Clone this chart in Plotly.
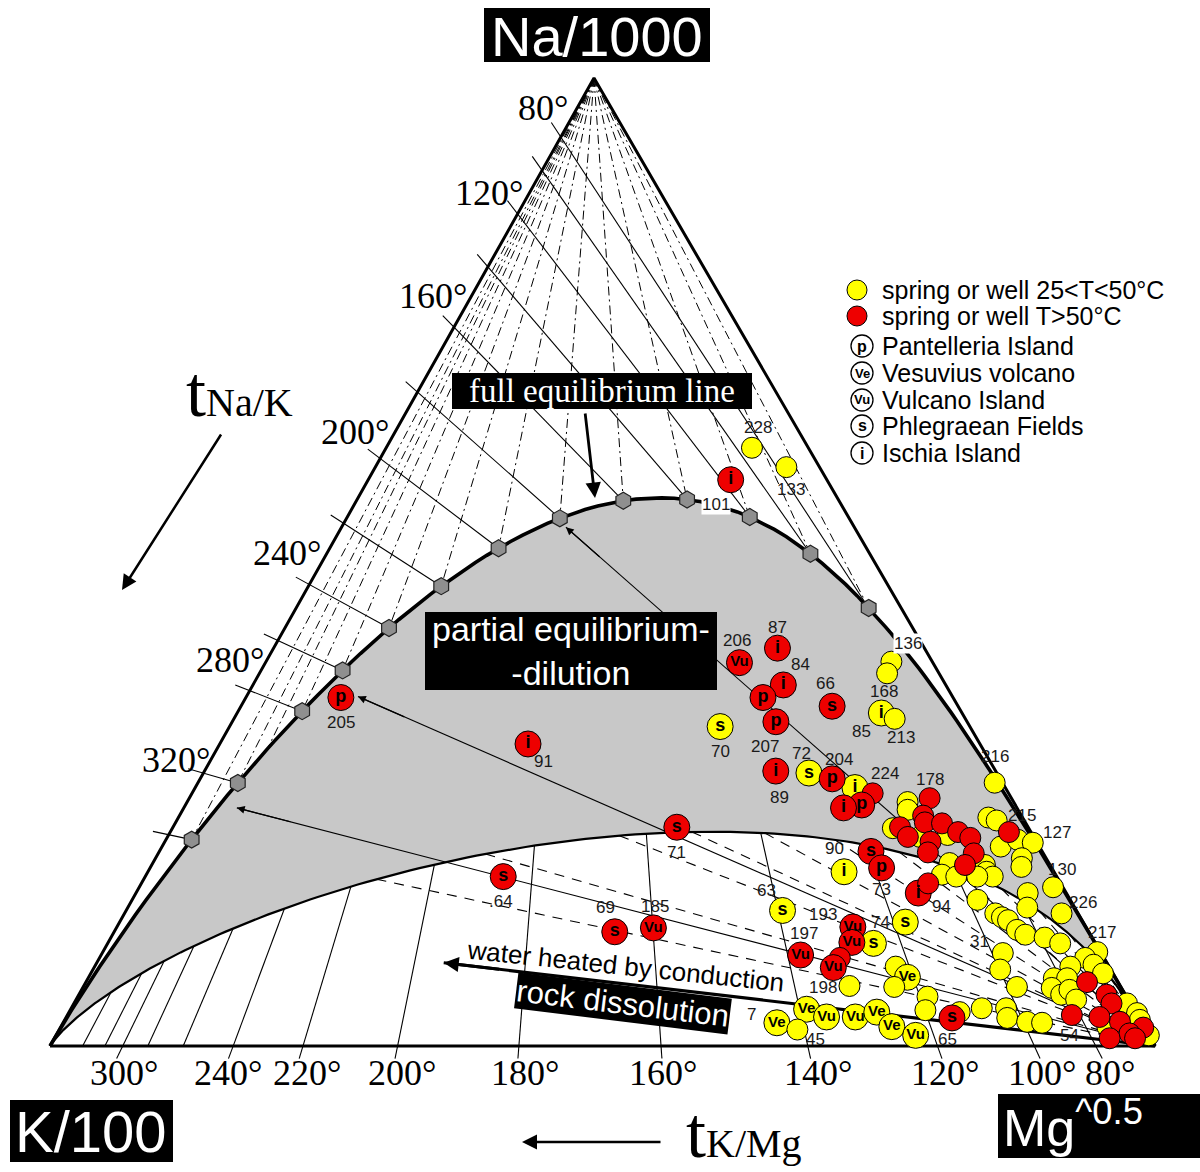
import numpy as np
import plotly.graph_objects as go

# ---------------- sample compositions ----------------
# % of (Na/1000 + K/100 + Mg^0.5); the K/100 share is 100 - Na - Mg
yel_na = [61.8, 59.8, 33.0, 28.2, 26.7, 39.7, 38.5, 34.4, 33.8, 18.0,
          14.0, 10.6, 6.2, 12.8, 8.2, 7.1, 6.1, 5.1, 3.7, 3.5,
          3.9, 3.8, 3.0, 3.0, 3.5, 2.0, 1.1, 2.4, 1.7, 15.1,
          27.2, 25.2, 24.4, 22.5, 21.6, 21.8, 18.9, 17.7, 17.5, 18.7,
          18.0, 17.5, 17.5, 23.6, 23.3, 20.6, 21.3, 21.0, 19.4, 18.5,
          16.4, 15.8, 14.3, 13.7, 13.7, 13.3, 13.0, 12.0, 11.5, 11.2,
          10.6, 9.6, 7.9, 9.7, 9.1, 8.2, 8.4, 7.5, 7.0, 7.0,
          6.0, 5.3, 5.8, 4.8, 6.1, 3.9, 2.9, 2.5, 2.4, 4.4,
          3.4, 2.7, 1.1, 2.0]
yel_mg = [33.1, 37.2, 44.4, 54.8, 59.7, 56.6, 56.8, 58.3, 59.8, 63.0,
          59.4, 69.3, 69.3, 71.1, 72.5, 74.1, 73.4, 76.9, 77.4, 80.6,
          82.4, 66.6, 68.8, 71.4, 73.1, 75.2, 77.8, 64.6, 66.8, 76.5,
          72.1, 65.2, 65.6, 65.2, 68.1, 70.5, 72.1, 72.0, 73.4, 75.4,
          75.9, 76.7, 75.3, 73.3, 74.2, 75.9, 77.1, 78.6, 78.4, 78.8,
          82.7, 80.7, 81.4, 84.8, 78.8, 79.6, 80.3, 81.6, 82.6, 84.5,
          86.2, 81.5, 82.1, 90.0, 89.2, 88.3, 90.3, 91.6, 87.4, 88.6,
          87.7, 88.9, 89.4, 90.5, 84.5, 84.6, 85.2, 87.2, 88.6, 95.3,
          96.7, 97.3, 98.9, 94.7]
yel_sym = ['', '', 's', 's', 'i', '', '', 'i', '', 'i',
           's', 's', '', 's', '', 'Ve', '', '', '', '',
           '', 'Ve', 'Vu', 'Vu', 'Ve', 'Ve', 'Vu', 'Ve', '', '',
           '', '', '', '', '', '', '', '', '', '',
           '', '', '', '', '', '', '', '', '', '',
           '', '', '', '', '', '', '', '', '', '',
           '', '', '', '', '', '', '', '', '', '',
           '', '', '', '', '', '', '', '', '', '',
           '', '', '', '']
yel_id = ['228', '133', '70', '72', '', '', '168', '85', '213', '90',
          '63', '74', '', '', '', '', '', '', '', '',
          '', '', '', '', '', '', '', '7', '45', '',
          '216', '', '', '', '', '', '', '', '', '',
          '', '', '', '', '', '', '', '127', '', '',
          '130', '', '', '226', '', '', '', '', '', '',
          '', '31', '', '217', '', '', '', '', '', '',
          '', '', '', '', '', '', '', '', '', '',
          '', '', '', '']

red_na = [58.5, 41.1, 39.6, 37.3, 36.0, 33.5, 35.1, 28.4, 27.6, 26.1,
          24.9, 24.6, 36.0, 31.2, 22.6, 17.5, 11.8, 12.2, 20.1, 18.4,
          15.8, 16.8, 12.3, 10.7, 9.1, 8.1, 9.4, 2.9, 25.6, 23.8,
          23.1, 22.6, 21.6, 23.0, 21.1, 20.0, 22.1, 21.5, 19.9, 18.7,
          22.1, 6.6, 3.2, 5.3, 4.4, 3.0, 2.5, 1.9, 1.3, 0.8,
          0.8]
red_mg = [32.8, 45.6, 42.9, 48.0, 46.8, 49.2, 53.5, 51.7, 57.2, 61.6,
          61.2, 59.7, 8.6, 27.9, 45.6, 32.4, 45.3, 48.6, 64.4, 66.2,
          70.8, 71.2, 66.6, 67.3, 67.0, 66.9, 63.3, 80.2, 67.0, 67.3,
          67.8, 65.8, 67.0, 69.4, 69.3, 69.6, 71.3, 72.7, 73.8, 73.6,
          75.9, 90.6, 90.9, 93.0, 93.9, 93.5, 95.6, 98.0, 97.05, 95.5,
          97.8]
red_sym = ['i', 'i', 'Vu', 'i', 'p', 'p', 's', 'i', 'p', '',
           'p', 'i', 'p', 'i', 's', 's', 's', 'Vu', 's', 'p',
           'i', '', 'Vu', 'Vu', '', 'Vu', 'Vu', 's', '', '',
           '', '', '', '', '', '', '', '', '', '',
           '', '', '', '', '', '', '', '', '', '',
           '']
red_id = ['101', '87', '206', '84', '', '207', '66', '89', '204', '224',
          '', '', '205', '91', '71', '.64', '69', '185', '', '73',
          '94', '', '193', '', '', '198', '197', '65', '178', '',
          '', '', '', '', '', '', '', '', '', '',
          '215', '', '54', '', '', '', '', '', '', '',
          '']

# ---------------- temperature scales (°C) ----------------
nak_T = [80, 100, 120, 140, 160, 180, 200, 220, 240, 260, 280, 320, 360]
nak_label_T = [80, 120, 160, 200, 240, 280, 320]
kmg_T = [80, 100, 120, 140, 160, 180, 200, 220, 240, 260, 280, 300, 320, 360]
kmg_label_T = [300, 240, 220, 200, 180, 160, 140, 120, 100, 80]
hex_T = [80, 100, 120, 140, 160, 180, 200, 220, 240, 260, 280, 320, 360]
MI_PARTIAL = 2.0       # maturity index of the partial-equilibrium boundary

# dilution arrows (head compositions, % Na, % Mg) and rock-dissolution arrow
dil_na = [53.6, 36.1, 24.6]
dil_mg = [20.3, 10.1, 4.8]
rock_na = 8.6
rock_mg = 31.4

# ---------------- geometry helpers ----------------
FIG_W, FIG_H = 1200, 1172
W = 1105.0                 # base length of triangle in px
H = 968.0 / W              # height / base of the drawn triangle
SKEW = 544.0 / W           # horizontal position of the Na apex along the base
KX, KY = 50.0, 1046.0      # K corner position in px

NA = (1.0, 0.0, 0.0)
KK = (0.0, 1.0, 0.0)
MG = (0.0, 0.0, 1.0)


def xy(p):
    na, k, mg = p
    s = na + k + mg
    return mg / s + SKEW * na / s, H * na / s


def xy_arr(na_pct, mg_pct):
    na = np.asarray(na_pct, float) / 100.0
    mg = np.asarray(mg_pct, float) / 100.0
    return mg + SKEW * na, H * na


def along(p, q, t):
    return tuple(pi + t * (qi - pi) for pi, qi in zip(p, q))


def r_nak(T):   # (Na/1000)/(K/100) from Giggenbach Na/K geothermometer
    return 10 ** (1390.0 / (T + 273.0) - 1.75) / 10.0


def r_kmg(T):   # (K/100)/Mg^0.5 from K/Mg geothermometer
    return np.sqrt(10 ** (14.0 - 4410.0 / (T + 273.0))) / 100.0


def eq_point(T):
    rn, rk = r_nak(T), r_kmg(T)
    b = 1.0 / (rn + 1.0 + 1.0 / rk)
    return (rn * b, b, b / rk)


def mi_point(s, mi=MI_PARTIAL):   # s = b/c
    q = 10 ** (2.26 - mi + 0.63 * np.log10(s))   # q = b/a
    b = 1.0 / (1.0 + 1.0 / q + 1.0 / s)
    return (b / q, b, b / s)


def mi_on_nak(T, mi=MI_PARTIAL):
    q = 1.0 / r_nak(T)
    s = 10 ** ((np.log10(q) - (2.26 - mi)) / 0.63)
    return mi_point(s, mi)


def nak_edge(T):
    r = r_nak(T)
    return (r / (1 + r), 1 / (1 + r), 0.0)


def kmg_edge(T):
    r = r_kmg(T)
    return (0.0, r / (1 + r), 1 / (1 + r))


def PX(x):
    return x / FIG_W


def PY(y):
    return 1 - y / FIG_H


def seg_trace(segs, width, dash='solid', color='black'):
    xs, ys = [], []
    for p, q in segs:
        x1, y1 = xy(p)
        x2, y2 = xy(q)
        xs += [x1, x2, None]
        ys += [y1, y2, None]
    return go.Scatter(x=xs, y=ys, mode='lines', hoverinfo='skip', showlegend=False,
                      line=dict(color=color, width=width, dash=dash))


def curve_trace(pts, width, color='black'):
    xs, ys = zip(*[xy(p) for p in pts])
    return go.Scatter(x=xs, y=ys, mode='lines', hoverinfo='skip', showlegend=False,
                      line=dict(color=color, width=width))


annotations = []
shapes = []


def ann(**kw):
    kw.setdefault('xanchor', 'center')
    kw.setdefault('yanchor', 'middle')
    kw.setdefault('showarrow', False)
    if 'xref' not in kw:
        kw['xref'] = 'paper'
        kw['yref'] = 'paper'
    annotations.append(kw)


fig = go.Figure()

# ---------------- curves ----------------
T_curve = np.concatenate([np.arange(-130, 80, 2.0), np.arange(80, 400, 4.0), np.arange(400, 3001, 20.0)])
eq_curve = [KK] + [eq_point(T) for T in T_curve[::-1]] + [MG]
s_curve = np.logspace(-7, 7, 700)
low_curve = [MG] + [mi_point(s) for s in s_curve] + [KK]

poly = eq_curve + low_curve
px_, py_ = zip(*[xy(p) for p in poly])
fig.add_trace(go.Scatter(x=px_, y=py_, mode='lines', fill='toself', fillcolor='#c8c8c8',
                         line=dict(width=0, color='#c8c8c8'), hoverinfo='skip', showlegend=False))

# ---------------- isotherms ----------------
TICK_L = 0.016
TICK_B = 0.013
nak_up, nak_low, kmg_up, kmg_low = [], [], [], []
for T in nak_T:
    L = nak_edge(T)
    nak_up.append((along(MG, L, 1.0 + TICK_L), eq_point(T)))
    nak_low.append((mi_on_nak(T), MG))
for T in kmg_T:
    B = kmg_edge(T)
    kmg_up.append((NA, eq_point(T)))
    end = along(NA, B, 1.0 + TICK_B) if T in kmg_label_T else B
    kmg_low.append((mi_point(r_kmg(T)), end))

fig.add_trace(seg_trace(kmg_up, 1.0, '9px,4px,2px,4px'))
fig.add_trace(seg_trace(nak_up, 1.1))
fig.add_trace(seg_trace(nak_low, 1.1, '10px,8px'))
fig.add_trace(seg_trace(kmg_low, 1.1))

# dilution lines and rock dissolution line
dil_segs = [((na / 100, 1 - (na + mg) / 100, mg / 100), MG) for na, mg in zip(dil_na, dil_mg)]
fig.add_trace(seg_trace(dil_segs, 1.1))
rock_head = (rock_na / 100, 1 - (rock_na + rock_mg) / 100, rock_mg / 100)
fig.add_trace(seg_trace([(rock_head, MG)], 3.2))

fig.add_trace(curve_trace(low_curve, 2.2))
fig.add_trace(curve_trace(eq_curve, 3.6))
fig.add_trace(curve_trace([KK, MG, NA, KK], 3.0))

# hexagons at full equilibrium
hx, hy = zip(*[xy(eq_point(T)) for T in hex_T])
fig.add_trace(go.Scatter(x=hx, y=hy, mode='markers', hoverinfo='skip', showlegend=False,
                         marker=dict(symbol='hexagon', size=17, color='#8f8f8f', opacity=1,
                                     line=dict(color='#222', width=1.2))))


# ---------------- samples ----------------
def point_trace(na, mg, sym, color):
    x, y = xy_arr(na, mg)
    sizes = [26 if s else 21 for s in sym]
    text = ['<b>%s</b>' % s if s else '' for s in sym]
    tsz = [15 if len(s) > 1 else 18 for s in sym]
    return go.Scatter(x=x, y=y, mode='markers+text', text=text, textposition='middle center',
                      textfont=dict(family='Liberation Sans', size=tsz, color='black'),
                      marker=dict(size=sizes, color=color, opacity=1, line=dict(color='black', width=1)),
                      hoverinfo='skip', showlegend=False, cliponaxis=False)


fig.add_trace(point_trace(yel_na, yel_mg, yel_sym, '#ffff00'))
fig.add_trace(point_trace(red_na, red_mg, red_sym, '#ee0000'))

# sample number labels (offsets are label placement in px: right, down)
label_offset = {
    '228': (6, -20), '133': (5, 22), '70': (0, 25), '72': (-7, -20), '168': (-3, 18), '85': (-20, 18),
    '213': (6, 19), '90': (-10, -23), '63': (-16, -20), '74': (7, -21), '7': (-25, -8), '45': (18, 10),
    '216': (0, -26), '127': (24, -10), '130': (9, -18), '226': (21, -11), '31': (-23, -12), '217': (5, -20),
    '101': (-15, 25), '87': (0, -21), '206': (-2, -22), '84': (17, -20), '207': (-11, 25), '66': (-7, -23),
    '89': (4, 26), '204': (7, -19), '224': (12, -20), '205': (0, 25), '91': (15, 18), '71': (0, 25),
    '.64': (-2, 25), '69': (-9, -24), '185': (2, -21), '73': (0, 22), '94': (23, 13), '193': (-30, -12),
    '198': (-10, 20), '197': (3, -22), '65': (-4, 22), '178': (0, -19), '215': (13, -17), '54': (-2, 20)}
white_bg = {'101'}
LABEL_FONT = dict(family='Liberation Sans', size=17, color='#1a1a1a')

for na, mg, ids in [(yel_na, yel_mg, yel_id), (red_na, red_mg, red_id)]:
    xs, ys = xy_arr(na, mg)
    for x, y, lab in zip(xs, ys, ids):
        if not lab:
            continue
        dx, dy = label_offset.get(lab, (0, -22))
        kw = dict(x=x, y=y, xref='x', yref='y', text=lab, xshift=dx, yshift=-dy, font=LABEL_FONT)
        if lab in white_bg:
            kw.update(bgcolor='white', borderpad=0)
        ann(**kw)
ann(x=PX(908), y=PY(643), text='136', bgcolor='white', borderpad=0, font=LABEL_FONT)

# arrow heads for dilution lines / rock dissolution
for na, mg in zip(dil_na, dil_mg):
    p = (na / 100, 1 - (na + mg) / 100, mg / 100)
    hxp, hyp = xy(p)
    tx, ty = xy(along(p, MG, 0.06))
    ann(x=hxp, y=hyp, ax=tx, ay=ty, xref='x', yref='y', axref='x', ayref='y',
        text='', showarrow=True, arrowhead=2, arrowsize=1.3, arrowwidth=1.2,
        arrowcolor='black', standoff=0)
rx, ry = xy(rock_head)
tx, ty = xy(along(rock_head, MG, 0.08))
ann(x=rx, y=ry, ax=tx, ay=ty, xref='x', yref='y', axref='x', ayref='y',
    text='', showarrow=True, arrowhead=2, arrowsize=1.0, arrowwidth=3,
    arrowcolor='black', standoff=0)

# temperature labels
TEMP_FONT = dict(family='Liberation Serif', size=36, color='black')
nak_label_pos = [(543, 108), (489, 193), (433, 296), (355, 432), (287, 553), (230, 660), (176, 760)]
for T, (x, y) in zip(nak_label_T, nak_label_pos):
    ann(x=PX(x), y=PY(y), text='%d°' % T, font=TEMP_FONT)
kmg_label_x = [124, 228, 307, 402, 525, 663, 818, 945, 1042, 1110]
for T, x in zip(kmg_label_T, kmg_label_x):
    ann(x=PX(x), y=PY(1073), text='%d°' % T, font=TEMP_FONT)


# corner titles
def black_box(x0, y0, x1, y1):
    shapes.append(dict(type='rect', xref='paper', yref='paper', x0=PX(x0), x1=PX(x1), y0=PY(y1), y1=PY(y0),
                       fillcolor='black', line=dict(width=0), layer='above'))


black_box(484, 8, 710, 62)
ann(x=PX(597), y=PY(36), text='Na/1000', font=dict(family='Liberation Sans', size=56, color='white'))
black_box(10, 1100, 173, 1162)
ann(x=PX(91), y=PY(1131), text='K/100', font=dict(family='Liberation Sans', size=58, color='white'))
black_box(998, 1094, 1200, 1158)
ann(x=PX(1001), y=PY(1124), xanchor='left', text='Mg<sup>^0.5</sup>',
    font=dict(family='Liberation Sans', size=52, color='white'))

# region labels
black_box(452, 373, 752, 409)
ann(x=PX(602), y=PY(391), text='full equilibrium line',
    font=dict(family='Liberation Serif', size=33, color='white'))
black_box(425, 612, 717, 690)
ann(x=PX(571), y=PY(651), text='partial equilibrium-<br>-dilution',
    font=dict(family='Liberation Sans', size=34, color='white'))
ann(x=PX(625), y=PY(966), text='water heated by conduction', textangle=6,
    font=dict(family='Liberation Sans', size=26, color='black'))
ann(x=PX(623), y=PY(1003), text='rock dissolution', textangle=7, bgcolor='black', borderpad=0,
    font=dict(family='Liberation Sans', size=31, color='white'))

# axis titles and direction arrows
ann(x=PX(184), y=PY(392), xanchor='left', text="t<span style='font-size:40px'>Na/K</span>",
    font=dict(family='Liberation Serif', size=72, color='black'))
ann(x=PX(684), y=PY(1133), xanchor='left', text="t<span style='font-size:40px'>K/Mg</span>",
    font=dict(family='Liberation Serif', size=72, color='black'))
ann(x=PX(122), y=PY(590), ax=100, ay=-157, text='', showarrow=True, arrowhead=2, arrowsize=1.2,
    arrowwidth=2.5, arrowcolor='black', standoff=0)
ann(x=PX(522), y=PY(1142), ax=140, ay=0, text='', showarrow=True, arrowhead=2, arrowsize=1.2,
    arrowwidth=2.5, arrowcolor='black', standoff=0)
ann(x=PX(595), y=PY(498), ax=-10, ay=-86, text='', showarrow=True, arrowhead=2, arrowsize=1.1,
    arrowwidth=2.8, arrowcolor='black', standoff=0)

# legend
legend_items = ['spring or well 25<T<50°C', 'spring or well T>50°C', 'Pantelleria Island',
                'Vesuvius volcano', 'Vulcano Island', 'Phlegraean Fields', 'Ischia Island']
legend_marks = ['#ffff00', '#ee0000', 'p', 'Ve', 'Vu', 's', 'i']
legend_y = [290, 316, 346, 373, 400, 426, 453]
for item, mark, ly in zip(legend_items, legend_marks, legend_y):
    if mark.startswith('#'):
        cx, r, fill, lw = 857, 10, mark, 1
    else:
        cx, r, fill, lw = 862, 11, 'white', 1.3
    shapes.append(dict(type='circle', xref='paper', yref='paper', x0=PX(cx - r), x1=PX(cx + r),
                       y0=PY(ly + r), y1=PY(ly - r), fillcolor=fill, line=dict(color='black', width=lw),
                       layer='above'))
    if not mark.startswith('#'):
        ann(x=PX(cx), y=PY(ly), text='<b>%s</b>' % mark,
            font=dict(family='Liberation Sans', size=13 if len(mark) > 1 else 16, color='black'))
    ann(x=PX(880), y=PY(ly), xanchor='left', text=item,
        font=dict(family='Liberation Sans', size=25, color='black'))

fig.update_layout(
    width=FIG_W, height=FIG_H, autosize=False,
    margin=dict(l=0, r=0, t=0, b=0, pad=0),
    paper_bgcolor='white', plot_bgcolor='white',
    xaxis=dict(range=[-KX / W, (FIG_W - KX) / W], visible=False, fixedrange=True),
    yaxis=dict(range=[(KY - FIG_H) / W, KY / W], visible=False, fixedrange=True),
    showlegend=False,
    annotations=annotations,
    shapes=shapes,
)

fig.write_html('out.html')
